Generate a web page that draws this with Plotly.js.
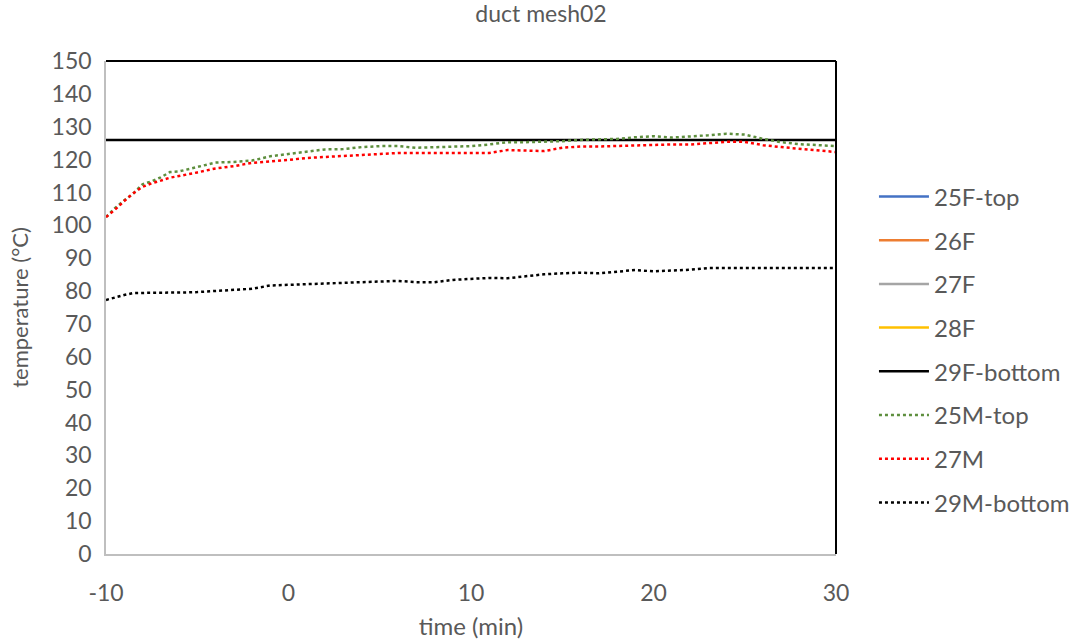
<!DOCTYPE html>
<html>
<head>
<meta charset="utf-8">
<script src="https://cdn.plot.ly/plotly-3.0.1.min.js"></script>
<style>html,body{margin:0;padding:0;background:#fff;}#chart{width:1082px;height:640px;}</style>
</head>
<body>
<div id="chart"></div>
<script>
var time = [-10,-9.5,-9,-8.5,-8,-7.5,-7,-6.5,-6,-5.5,-5,-4,-3,-2,-1,0,1,2,3,4,5,6,7,8,9,10,11,12,13,14,15,16,17,18,19,20,21,22,23,24,25,26,27,28,29,30];

var m25top = [102.5,105.3,107.6,109.7,112.5,113.4,114.6,116.2,116.4,117.1,117.8,119.1,119.3,119.7,121.0,121.7,122.3,123.1,123.2,123.8,124.1,124.1,123.6,123.7,124.0,124.1,124.6,125.3,125.3,125.4,125.6,126.0,126.1,126.3,126.8,127.1,126.7,127.0,127.4,127.9,127.6,126.3,125.3,124.7,124.3,124.1];

var m27 = [102.5,104.8,107.4,109.8,111.7,112.8,113.6,114.5,115.0,115.5,116.1,117.3,118.0,119.0,119.4,119.9,120.5,120.8,121.3,121.5,121.8,122.0,122.0,122.0,122.0,122.0,122.0,122.9,122.8,122.6,123.6,124.0,124.0,124.2,124.4,124.5,124.6,124.6,124.9,125.4,125.4,124.4,123.8,123.3,122.8,122.3];

var m29bottom = [77.3,78.1,78.8,79.4,79.4,79.4,79.4,79.5,79.5,79.6,79.7,80.0,80.3,80.7,81.7,82.0,82.1,82.3,82.5,82.6,82.8,83.1,82.7,82.7,83.4,83.7,84.0,83.9,84.6,85.1,85.4,85.6,85.4,85.9,86.4,86.0,86.2,86.5,87.0,87.0,87.0,87.0,87.0,87.0,87.0,87.0];

var f29bottom = time.map(function(){ return 126; });
var empty = time.map(function(){ return null; });

var xTickVals = [-10, 0, 10, 20, 30];
var xTickText = ['-10', '0', '10', '20', '30'];

var names = ['25F-top','26F','27F','28F','29F-bottom','25M-top','27M','29M-bottom'];
var colors = ['#4472c4','#ed7d31','#a5a5a5','#ffc000','#000000','#5e8f3e','#ff0000','#000000'];
var series = [empty, empty, empty, empty, f29bottom, m25top, m27, m29bottom];
var dashes = ['solid','solid','solid','solid','solid','dot','dot','dot'];
var widths = [2.5,2.5,2.5,2.5,2.5,2.5,2.5,2.5];

var traces = names.map(function(n, i){
  return {
    x: time, y: series[i], name: n, type: 'scatter', mode: 'lines',
    line: {color: colors[i], width: widths[i], dash: dashes[i]},
    legendgroup: 'g' + i, showlegend: true, connectgaps: false
  };
});

var fontFam = 'Lato, "Open Sans", sans-serif';
var layout = {
  width: 1082, height: 640,
  margin: {l: 106, r: 246, t: 61, b: 86, autoexpand: false},
  paper_bgcolor: '#ffffff', plot_bgcolor: '#ffffff',
  font: {family: fontFam, color: '#595959', size: 23},
  title: {text: 'duct mesh02', font: {size: 23, color: '#595959', family: fontFam}, x: 0.5, xanchor: 'center', y: 0.978, yanchor: 'middle'},
  xaxis: {
    range: [-10, 30], tickmode: 'array', tickvals: xTickVals, ticktext: xTickText,
    showgrid: false, zeroline: false, showline: true, linecolor: '#bfbfbf', linewidth: 1.5,
    ticks: '', ticklabelstandoff: 18, tickfont: {size: 23, color: '#595959'},
    title: {text: 'time (min)', font: {size: 24, color: '#595959'}, standoff: 14}
  },
  yaxis: {
    range: [0, 150], tickmode: 'linear', tick0: 0, dtick: 10,
    showgrid: false, zeroline: false, showline: true, linecolor: '#bfbfbf', linewidth: 1.5,
    ticks: '', ticklabelstandoff: 8, tickfont: {size: 23, color: '#595959'},
    title: {text: 'temperature (°C)', font: {size: 22, color: '#595959'}, standoff: 17}
  },
  legend: {
    x: 1.052, xanchor: 'left', y: 0.77, yanchor: 'top',
    traceorder: 'grouped', tracegroupgap: 9.5,
    font: {size: 24, color: '#595959'}, itemwidth: 50,
    bgcolor: 'rgba(0,0,0,0)'
  },
  shapes: [
    {type: 'line', xref: 'paper', yref: 'paper', x0: 0, x1: 1, y0: 1, y1: 1, line: {color: '#000000', width: 2}},
    {type: 'line', xref: 'paper', yref: 'paper', x0: 1, x1: 1, y0: 0, y1: 1, line: {color: '#000000', width: 2}}
  ]
};

Plotly.newPlot('chart', traces, layout, {displayModeBar: false, responsive: false});
</script>
</body>
</html>
